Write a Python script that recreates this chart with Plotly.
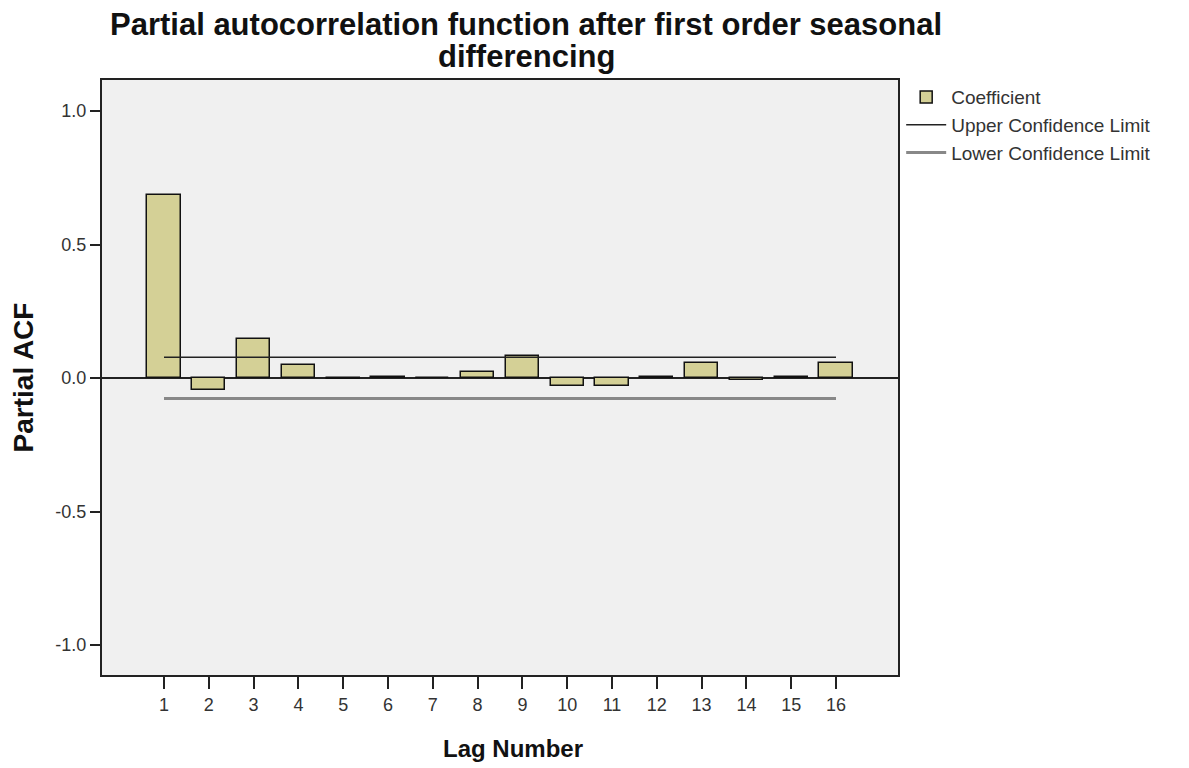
import plotly.graph_objects as go

# Partial ACF coefficients by lag
lags = list(range(1, 17))
pacf = [0.685, -0.045, 0.146, 0.049, -0.002, 0.004, 0.002, 0.022,
        0.084, -0.028, -0.028, 0.005, 0.055, -0.008, 0.004, 0.057]
upper_limit = 0.078
lower_limit = -0.077

y_tick_vals = [1.0, 0.5, 0.0, -0.5, -1.0]
y_tick_text = ["1.0", "0.5", "0.0", "-0.5", "-1.0"]

title_lines = ["Partial autocorrelation function after first order seasonal",
               "differencing"]

FONT = "Liberation Sans, Arial, sans-serif"
PLOT_LEFT, PLOT_W = 102, 796
PLOT_TOP, PLOT_H = 80, 595

fig = go.Figure()

fig.add_trace(go.Bar(
    x=lags, y=pacf, width=0.74, name="Coefficient",
    marker=dict(color="#d4d096", line=dict(color="#111111", width=1.5)),
))
fig.add_trace(go.Scatter(
    x=[lags[0], lags[-1]], y=[upper_limit, upper_limit], mode="lines",
    name="Upper Confidence Limit", line=dict(color="#222222", width=1.5),
))
fig.add_trace(go.Scatter(
    x=[lags[0], lags[-1]], y=[lower_limit, lower_limit], mode="lines",
    name="Lower Confidence Limit", line=dict(color="#888888", width=3),
))

# Two-line title, each line placed separately for tight spacing
for line, y_px in zip(title_lines, [25, 57]):
    fig.add_annotation(
        text=f"<b>{line}</b>", showarrow=False,
        xref="paper", x=(526 - PLOT_LEFT) / PLOT_W, xanchor="center",
        yref="paper", y=1 + (PLOT_TOP - y_px) / PLOT_H, yanchor="middle",
        font=dict(size=31, color="#111111", family=FONT),
    )

# x-axis title
fig.add_annotation(
    text="<b>Lag Number</b>", showarrow=False,
    xref="paper", x=(513 - PLOT_LEFT) / PLOT_W, xanchor="center",
    yref="paper", y=-(748 - PLOT_TOP - PLOT_H) / PLOT_H, yanchor="middle",
    font=dict(size=24, color="#111111", family=FONT),
)

fig.update_layout(
    width=1189, height=768,
    margin=dict(l=PLOT_LEFT, r=1189 - PLOT_LEFT - PLOT_W, t=PLOT_TOP,
                b=768 - PLOT_TOP - PLOT_H),
    paper_bgcolor="white", plot_bgcolor="#f0f0f0",
    font=dict(family=FONT, color="#333333"),
    showlegend=True,
    legend=dict(
        x=1.004, xanchor="left", y=1.003, yanchor="top",
        font=dict(size=19, color="#333333", family=FONT),
        bgcolor="rgba(0,0,0,0)", tracegroupgap=0, itemwidth=40,
    ),
    bargap=0,
)

fig.update_xaxes(
    range=[-0.384, 17.384], tickvals=lags, ticktext=[str(v) for v in lags],
    ticks="outside", ticklen=12, tickwidth=1.5, tickcolor="#222222",
    showline=True, linewidth=2, linecolor="#222222", mirror=True,
    showgrid=False, zeroline=False,
    tickfont=dict(size=18, color="#333333"),
)
fig.update_yaxes(
    range=[-1.112, 1.116], tickvals=y_tick_vals, ticktext=y_tick_text,
    ticks="outside", ticklen=10, tickwidth=1.5, tickcolor="#222222",
    showline=True, linewidth=2, linecolor="#222222", mirror=True,
    showgrid=False, zeroline=True, zerolinecolor="#222222", zerolinewidth=1.5,
    tickfont=dict(size=18, color="#333333"),
    title=dict(text="<b>Partial ACF</b>", font=dict(size=28, color="#111111"), standoff=14),
)

fig.write_html("out.html")
